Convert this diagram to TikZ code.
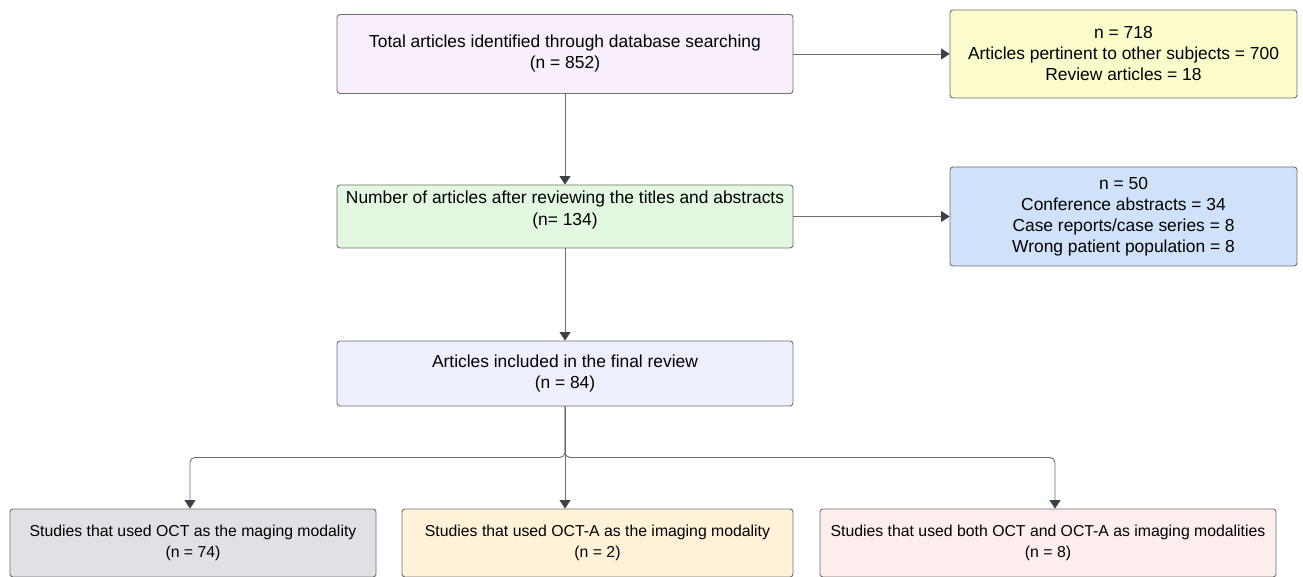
\documentclass[tikz,border=0pt]{standalone}
\usepackage{fontspec}
\setmainfont{Liberation Sans}
\usetikzlibrary{arrows.meta}
\definecolor{bordercol}{HTML}{707070}
\definecolor{linecol}{HTML}{6E6E6E}
\definecolor{tipcol}{HTML}{3B414B}
\definecolor{ctop}{HTML}{F8EEFC}
\definecolor{cyellow}{HTML}{FCFBCB}
\definecolor{cgreen}{HTML}{E3F8E0}
\definecolor{cblue}{HTML}{CFE2FA}
\definecolor{cfinal}{HTML}{EEEFFD}
\definecolor{cgrey}{HTML}{DFE1E6}
\definecolor{cpeach}{HTML}{FFF2D9}
\definecolor{cpink}{HTML}{FDEDED}
\begin{document}
\begin{tikzpicture}[x=1pt,y=-1pt,
  box/.style={draw=bordercol, line width=0.9pt, rounded corners=3pt, inner sep=0pt, align=center, font=\fontsize{17.4}{21}\selectfont},
  sbox/.style={box, font=\fontsize{15.8}{21}\selectfont},
  txt/.style={inner sep=0pt, align=center, font=\fontsize{17.4}{21.5}\selectfont},
  conn/.style={draw=linecol, line width=0.9pt, rounded corners=5pt, -{Triangle[length=8.5pt,width=11pt,fill=tipcol,color=tipcol]}}
]
\useasboundingbox (0,0) rectangle (1303,577);
\fill[white] (0,0) rectangle (1303,577);

\node[box, fill=ctop, minimum width=456pt, minimum height=79pt] (top) at (565,54) {Total articles identified through database searching\\(n = 852)};
\node[box, fill=cyellow, minimum width=347pt, minimum height=88pt] (excl1) at (1123.5,54) {n = 718\\Articles pertinent to other subjects = 700\\Review articles = 18};
\node[box, fill=cgreen, minimum width=456pt, minimum height=63pt] (green) at (565,216.5) {};
\node[txt] (greentext) at (565,210) {Number of articles after reviewing the titles and abstracts\\(n= 134)};
\node[box, fill=cblue, minimum width=347pt, minimum height=99pt] (excl2) at (1123.5,216.5) {n = 50\\Conference abstracts = 34\\Case reports/case series = 8\\Wrong patient population = 8};
\node[box, fill=cfinal, minimum width=456pt, minimum height=65pt] (final) at (565,373.5) {Articles included in the final review\\(n = 84)};
\node[sbox, fill=cgrey, minimum width=366pt, minimum height=68pt] (b1) at (193,543) {Studies that used OCT as the maging modality\\(n = 74)};
\node[sbox, fill=cpeach, minimum width=391pt, minimum height=68pt] (b2) at (597.5,543) {Studies that used OCT-A as the imaging modality\\(n = 2)};
\node[sbox, fill=cpink, minimum width=456pt, minimum height=68pt] (b3) at (1048,543) {Studies that used both OCT and OCT-A as imaging modalities\\(n = 8)};

\draw[conn] (top.east) -- (excl1.west);
\draw[conn] (top.south) -- (green.north);
\draw[conn] (green.east) -- (excl2.west);
\draw[conn] (green.south) -- (final.north);
\draw[conn] (final.south) -- ++(0,51) -| ([xshift=-3pt]b1.north);
\draw[conn] (final.south) -- ++(0,51) -| ([xshift=7pt]b3.north);
\draw[conn] (final.south) -- ([xshift=-32.5pt]b2.north);
\end{tikzpicture}
\end{document}
